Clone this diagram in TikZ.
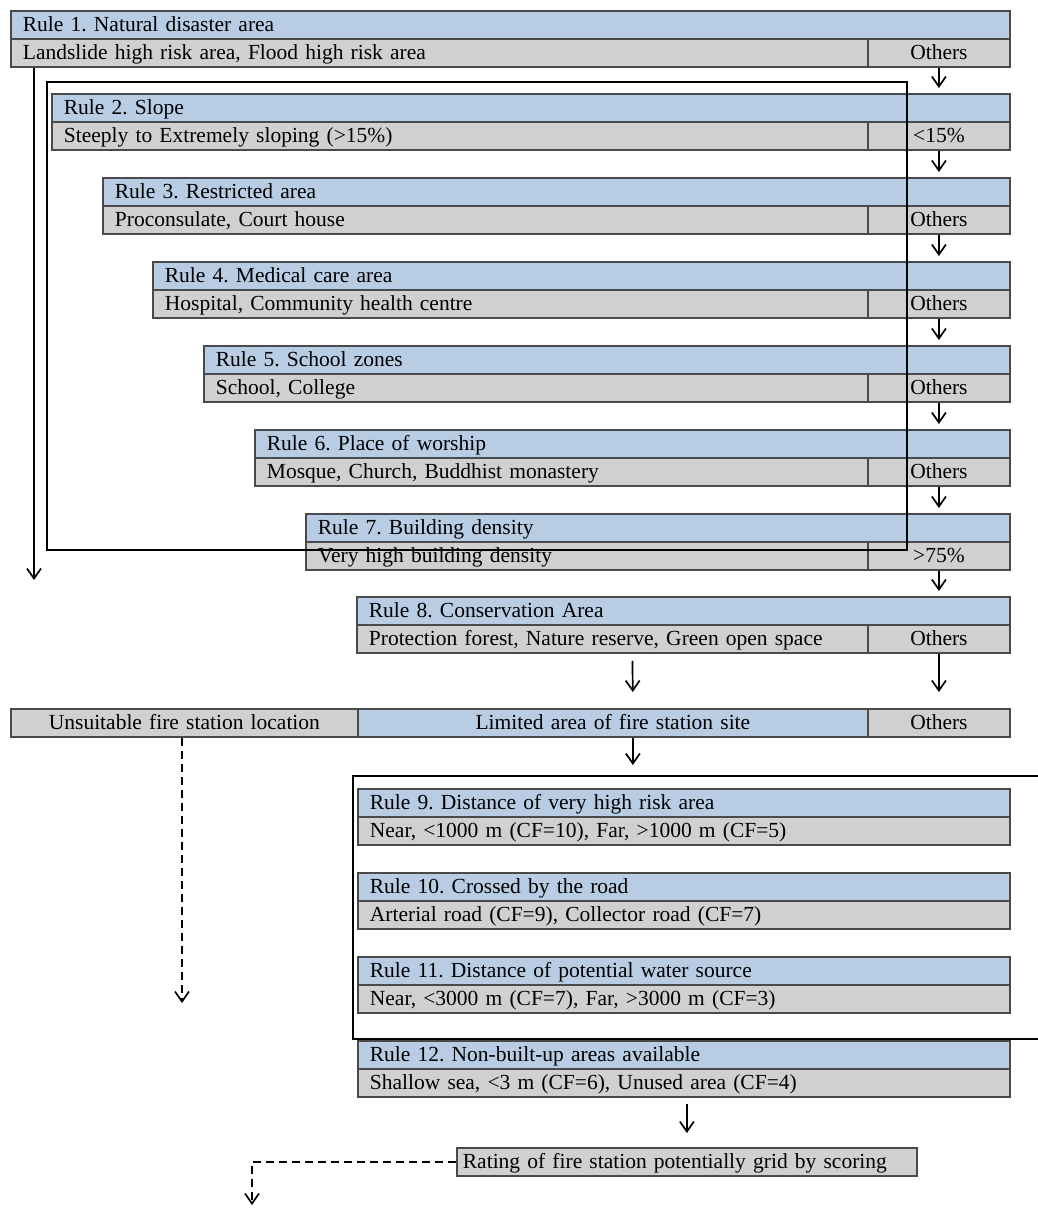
\documentclass[tikz,border=0pt]{standalone}
\usepackage{fontspec}
\setmainfont{Liberation Serif}
\usetikzlibrary{arrows.meta}
\definecolor{bluecell}{HTML}{B8CCE4}
\definecolor{graycell}{HTML}{D0D0D0}
\definecolor{edgec}{HTML}{4A4A4A}
\frenchspacing
\tikzset{
  cell/.style={draw=edgec, line width=1.8pt, anchor=north west, inner xsep=12pt, inner ysep=0pt,
    minimum height=28pt, text height=21pt, text depth=7pt, font=\fontsize{21.5}{24}\selectfont},
  bcell/.style={cell, fill=bluecell, align=left},
  gcell/.style={cell, fill=graycell, align=left},
  ocell/.style={cell, fill=graycell, align=center, text width=118pt},
  arr/.style={-{Straight Barb[length=10pt,width=14pt]}, line width=1.7pt, black},
  darr/.style={arr, dash pattern=on 8pt off 5pt},
  loopbox/.style={draw=black, line width=1.9pt, anchor=north west, inner sep=0pt}
}
\newcommand\RB[6]{%
  \pgfmathsetmacro\tw{1009-#2-24}%
  \pgfmathsetmacro\lw{867-#2-24}%
  \node[bcell, text width=\tw pt] (#1t) at (#2,#3) {#4};
  \node[gcell, text width=\lw pt] (#1l) at (#2,#3+28) {#5};
  \node[ocell] (#1r) at (867,#3+28) {#6};
}
\newcommand\RC[5]{%
  \pgfmathsetmacro\tw{1009-#2-24}%
  \node[bcell, text width=\tw pt] (#1t) at (#2,#3) {#4};
  \node[gcell, text width=\tw pt] (#1l) at (#2,#3+28) {#5};
}
\begin{document}
\begin{tikzpicture}[x=1pt,y=-1pt]
\useasboundingbox[fill=white] (0,0) rectangle (1037,1213);
\RB{ra}{10}{10}{Rule 1. Natural disaster area}{Landslide high risk area, Flood high risk area}{Others}
\RB{rb}{51}{93}{Rule 2. Slope}{Steeply to Extremely sloping (>15\%)}{<15\%}
\RB{rc}{102}{177}{Rule 3. Restricted area}{Proconsulate, Court house}{Others}
\RB{rd}{152}{261}{Rule 4. Medical care area}{Hospital, Community health centre}{Others}
\RB{re}{203}{345}{Rule 5. School zones}{School, College}{Others}
\RB{rf}{254}{429}{Rule 6. Place of worship}{Mosque, Church, Buddhist monastery}{Others}
\RB{rg}{305}{513}{Rule 7. Building density}{Very high building density}{>75\%}
\RB{rh}{356}{596}{Rule 8. Conservation Area}{Protection forest, Nature reserve, Green open space}{Others}
% result row
\node[cell, fill=graycell, align=center, text width=323pt] (uns) at (10,708) {Unsuitable fire station location};
\node[cell, fill=bluecell, align=center, text width=486pt] (lim) at (357,708) {Limited area of fire station site};
\node[ocell] (oth) at (867,708) {Others};
% rules 9-12
\RC{ri}{357}{788}{Rule 9. Distance of very high risk area}{Near, <1000 m (CF=10), Far, >1000 m (CF=5)}
\RC{rj}{357}{872}{Rule 10. Crossed by the road}{Arterial road (CF=9), Collector road (CF=7)}
\RC{rk}{357}{956}{Rule 11. Distance of potential water source}{Near, <3000 m (CF=7), Far, >3000 m (CF=3)}
\RC{rl}{357}{1040}{Rule 12. Non-built-up areas available}{Shallow sea, <3 m (CF=6), Unused area (CF=4)}
\node[cell, fill=graycell, align=left, inner xsep=6pt, text width=448pt] (rate) at (456,1147) {Rating of fire station potentially grid by scoring};
% loop boxes
\node[loopbox, minimum width=860pt, minimum height=468pt] (loopA) at (46,81) {};
\node[loopbox, minimum width=700pt, minimum height=263pt] (loopB) at (352,775) {};
% arrows down right column
\draw[arr, shorten >=5pt] (rar.south) -- (rar.south |- rbt.north);
\draw[arr, shorten >=5pt] (rbr.south) -- (rbr.south |- rct.north);
\draw[arr, shorten >=5pt] (rcr.south) -- (rcr.south |- rdt.north);
\draw[arr, shorten >=5pt] (rdr.south) -- (rdr.south |- ret.north);
\draw[arr, shorten >=5pt] (rer.south) -- (rer.south |- rft.north);
\draw[arr, shorten >=5pt] (rfr.south) -- (rfr.south |- rgt.north);
\draw[arr, shorten >=5pt] (rgr.south) -- (rgr.south |- rht.north);
% rule 1 reject line
\coordinate (e1) at (34,580);
\draw[arr] (e1 |- ral.south) -- (e1);
% rule 8 outputs
\draw[arr, shorten <=7pt, shorten >=16pt] ([xshift=20pt]rhl.south) -- ([xshift=20pt]lim.north);
\draw[arr, shorten >=16pt] (rhr.south) -- (oth.north);
\draw[arr, shorten >=10pt] ([xshift=20pt]lim.south) -- ([xshift=20pt]lim.south |- loopB.north);
% unsuitable
\coordinate (e2) at (182,1003);
\draw[darr] (e2 |- uns.south) -- (e2);
% rule 12 to rating
\draw[arr, shorten <=6pt, shorten >=14pt] (rate.north |- rll.south) -- (rate.north);
\coordinate (e3) at (252,1205);
\draw[darr] (rate.west) -| (e3);
\end{tikzpicture}
\end{document}
